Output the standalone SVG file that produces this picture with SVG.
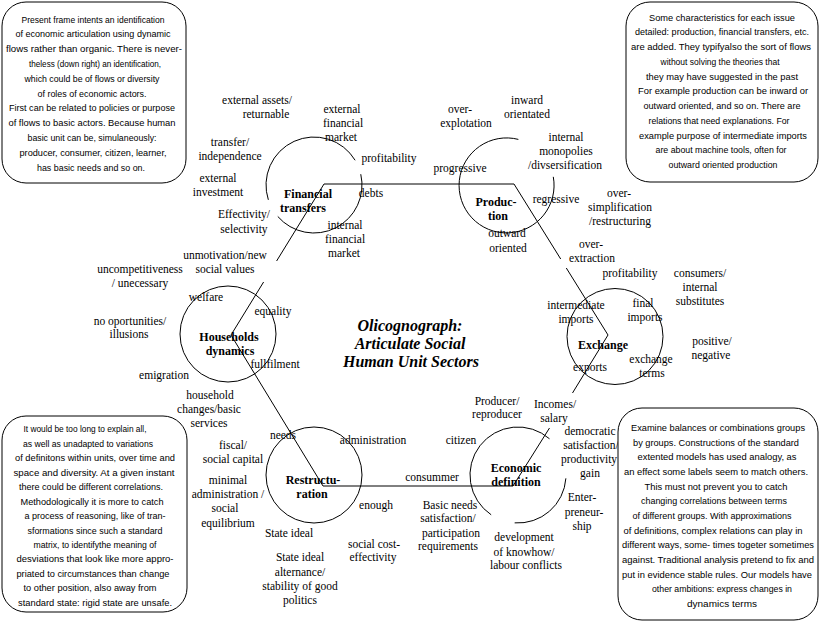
<svg xmlns="http://www.w3.org/2000/svg" width="822" height="626" viewBox="0 0 822 626">
<style>
.bg{fill:#fff}
.box{fill:#fff;stroke:#000;stroke-width:1}
.bt{font-family:"Liberation Sans",Arial,sans-serif;font-size:9.5px;text-anchor:middle;fill:#000}
.bs{font-family:"Liberation Sans",Arial,sans-serif;font-size:9px;text-anchor:middle;fill:#000}
.lb{font-family:"Liberation Serif","Times New Roman",serif;font-size:11.5px;text-anchor:middle;fill:#000}
.tt{font-family:"Liberation Serif","Times New Roman",serif;font-size:12px;font-weight:bold;text-anchor:middle;fill:#000}
.ti{font-family:"Liberation Serif","Times New Roman",serif;font-size:16px;font-weight:bold;font-style:italic;text-anchor:middle;fill:#000}
.ring{fill:none;stroke:#000;stroke-width:1}
.edge{fill:none;stroke:#000;stroke-width:1}
</style>
<rect class="bg" x="0" y="0" width="822" height="626"/>

<g id="connectors">
<line class="edge" x1="324" y1="184" x2="514" y2="184"/>
<line class="edge" x1="514" y1="184" x2="560.7" y2="259"/>
<line class="edge" x1="566.3" y1="268" x2="608" y2="335"/>
<line class="edge" x1="608" y1="335" x2="572.5" y2="393"/>
<line class="edge" x1="549.5" y1="428" x2="513" y2="486"/>
<line class="edge" x1="513" y1="486" x2="323" y2="486"/>
<line class="edge" x1="323" y1="486" x2="231" y2="335"/>
<line class="edge" x1="231" y1="335" x2="263.6" y2="282"/>
<line class="edge" x1="276.6" y1="261" x2="324" y2="184"/>
</g>

<g id="node-financial">
<path class="ring" d="M360.77,174.2 A48,48 0 0 1 277.77,216.49"/>
<path class="ring" d="M268.35,199.83 A48,48 0 0 1 355.14,160.28"/>
<text class="tt" x="308" y="198">Financial</text>
<text class="tt" x="303" y="212">transfers</text>
<text class="lb" x="257" y="104">external assets/</text>
<text class="lb" x="266" y="118">returnable</text>
<text class="lb" x="342" y="113">external</text>
<text class="lb" x="343" y="127">financial</text>
<text class="lb" x="341" y="141">market</text>
<text class="lb" x="230" y="146">transfer/</text>
<text class="lb" x="230" y="160">independence</text>
<text class="lb" x="389" y="162">profitability</text>
<text class="lb" x="218" y="182">external</text>
<text class="lb" x="218" y="196">investment</text>
<text class="lb" x="371" y="197">debts</text>
<text class="lb" x="244" y="218">Effectivity/</text>
<text class="lb" x="244" y="233">selectivity</text>
<text class="lb" x="345" y="229">internal</text>
<text class="lb" x="345" y="243">financial</text>
<text class="lb" x="344" y="257">market</text>
</g>

<g id="node-production">
<path class="ring" d="M553.29,176.84 A47.5,47.5 0 1 1 518.37,139.4"/>
<text class="tt" x="496" y="206">Produc-</text>
<text class="tt" x="498" y="220">tion</text>
<text class="lb" x="527" y="104">inward</text>
<text class="lb" x="527" y="118">orientated</text>
<text class="lb" x="460" y="113">over-</text>
<text class="lb" x="466" y="127">explotation</text>
<text class="lb" x="566" y="141">internal</text>
<text class="lb" x="566" y="155">monopolies</text>
<text class="lb" x="565" y="169">/divsersification</text>
<text class="lb" x="460" y="172">progressive</text>
<text class="lb" x="556" y="203">regressive</text>
<text class="lb" x="619" y="197">over-</text>
<text class="lb" x="620" y="211">simplification</text>
<text class="lb" x="620" y="225">/restructuring</text>
<text class="lb" x="507" y="237">outward</text>
<text class="lb" x="508" y="252">oriented</text>
</g>

<g id="node-exchange">
<circle class="ring" cx="615" cy="336.5" r="48"/>
<text class="tt" x="603" y="349">Exchange</text>
<text class="lb" x="591" y="248">over-</text>
<text class="lb" x="592" y="262">extraction</text>
<text class="lb" x="630" y="277">profitability</text>
<text class="lb" x="700" y="277">consumers/</text>
<text class="lb" x="700" y="291">internal</text>
<text class="lb" x="700" y="305">substitutes</text>
<text class="lb" x="576" y="309">intermediate</text>
<text class="lb" x="576" y="323">imports</text>
<text class="lb" x="643" y="307">final</text>
<text class="lb" x="645" y="321">imports</text>
<text class="lb" x="712" y="345">positive/</text>
<text class="lb" x="711" y="359">negative</text>
<text class="lb" x="651" y="363">exchange</text>
<text class="lb" x="652" y="377">terms</text>
<text class="lb" x="590" y="371">exports</text>
</g>

<g id="node-economic">
<path class="ring" d="M565.88,478.35 A48,48 0 0 1 514.65,522.88"/>
<path class="ring" d="M491.16,514.79 A48,48 0 1 1 549.49,438.77"/>
<text class="tt" x="516" y="472">Economic</text>
<text class="tt" x="516" y="486">definition</text>
<text class="lb" x="497" y="405">Producer/</text>
<text class="lb" x="497" y="418">reproducer</text>
<text class="lb" x="555" y="408">Incomes/</text>
<text class="lb" x="554" y="422">salary</text>
<text class="lb" x="461" y="444">citizen</text>
<text class="lb" x="590" y="435">democratic</text>
<text class="lb" x="591" y="449">satisfaction/</text>
<text class="lb" x="589" y="463">productivity</text>
<text class="lb" x="590" y="477">gain</text>
<text class="lb" x="432" y="481">consummer</text>
<text class="lb" x="582" y="501">Enter-</text>
<text class="lb" x="584" y="516">preneur-</text>
<text class="lb" x="582" y="530">ship</text>
<text class="lb" x="450" y="509">Basic needs</text>
<text class="lb" x="448" y="522">satisfaction/</text>
<text class="lb" x="451" y="537">participation</text>
<text class="lb" x="448" y="550">requirements</text>
<text class="lb" x="524" y="541">development</text>
<text class="lb" x="524" y="556">of knowhow/</text>
<text class="lb" x="526" y="569">labour conflicts</text>
</g>

<g id="node-restructuration">
<circle class="ring" cx="314" cy="475" r="48"/>
<text class="tt" x="313" y="484">Restructu-</text>
<text class="tt" x="312" y="498">ration</text>
<text class="lb" x="283" y="439">needs</text>
<text class="lb" x="373" y="444">administration</text>
<text class="lb" x="233" y="449">fiscal/</text>
<text class="lb" x="233" y="463">social capital</text>
<text class="lb" x="228" y="484">minimal</text>
<text class="lb" x="228" y="498">administration /</text>
<text class="lb" x="225" y="512">social</text>
<text class="lb" x="228" y="527">equilibrium</text>
<text class="lb" x="376" y="509">enough</text>
<text class="lb" x="289" y="537">State ideal</text>
<text class="lb" x="374" y="548">social cost-</text>
<text class="lb" x="373" y="561">effectivity</text>
<text class="lb" x="300" y="561">State ideal</text>
<text class="lb" x="300" y="576">alternance/</text>
<text class="lb" x="300" y="590">stability of good</text>
<text class="lb" x="300" y="604">politics</text>
</g>

<g id="node-households">
<circle class="ring" cx="228" cy="334" r="48"/>
<text class="tt" x="229" y="341">Households</text>
<text class="tt" x="230" y="355">dynamics</text>
<text class="lb" x="225" y="259">unmotivation/new</text>
<text class="lb" x="225" y="273">social values</text>
<text class="lb" x="140" y="273">uncompetitiveness</text>
<text class="lb" x="140" y="287">/ unecessary</text>
<text class="lb" x="206" y="301">welfare</text>
<text class="lb" x="273" y="315">equality</text>
<text class="lb" x="130" y="325">no oportunities/</text>
<text class="lb" x="129" y="338">illusions</text>
<text class="lb" x="275" y="368">fullfilment</text>
<text class="lb" x="164" y="379">emigration</text>
<text class="lb" x="210" y="399">household</text>
<text class="lb" x="209" y="413">changes/basic</text>
<text class="lb" x="209" y="427">services</text>
</g>

<g id="title">
<text class="ti" x="410" y="331">Olicognograph:</text>
<text class="ti" x="410" y="349">Articulate Social</text>
<text class="ti" x="411" y="367">Human Unit Sectors</text>
</g>

<g id="note-top-left">
<rect class="box" x="2" y="2" width="184" height="181" rx="24" ry="24"/>
<text class="bt" x="93" y="22.5" textLength="143" lengthAdjust="spacingAndGlyphs">Present frame intents an identification</text>
<text class="bt" x="93" y="37.3" textLength="155" lengthAdjust="spacingAndGlyphs">of economic articulation using dynamic</text>
<text class="bt" x="94" y="52.1" textLength="176" lengthAdjust="spacingAndGlyphs">flows rather than organic. There is  never-</text>
<text class="bt" x="95" y="66.9" textLength="132" lengthAdjust="spacingAndGlyphs">theless (down right) an identification,</text>
<text class="bt" x="92" y="81.7" textLength="135" lengthAdjust="spacingAndGlyphs">which could be of flows or diversity</text>
<text class="bt" x="92" y="96.5" textLength="109" lengthAdjust="spacingAndGlyphs">of roles of economic actors.</text>
<text class="bt" x="92" y="111.3" textLength="166" lengthAdjust="spacingAndGlyphs">First can be related to policies or purpose</text>
<text class="bt" x="92" y="126.1" textLength="167" lengthAdjust="spacingAndGlyphs">of flows to basic actors. Because human</text>
<text class="bt" x="92" y="140.9" textLength="129" lengthAdjust="spacingAndGlyphs">basic unit can be, simulaneously:</text>
<text class="bt" x="93" y="155.7" textLength="147" lengthAdjust="spacingAndGlyphs">producer, consumer, citizen, learner,</text>
<text class="bt" x="91" y="170.5" textLength="108" lengthAdjust="spacingAndGlyphs">has basic needs and so on.</text>
</g>

<g id="note-top-right">
<rect class="box" x="626" y="2" width="192" height="180" rx="24" ry="24"/>
<text class="bs" x="722" y="20.7" textLength="146" lengthAdjust="spacingAndGlyphs">Some characteristics for each issue</text>
<text class="bs" x="722" y="35.4" textLength="174" lengthAdjust="spacingAndGlyphs">detailed: production, financial transfers, etc.</text>
<text class="bs" x="721" y="50.2" textLength="180" lengthAdjust="spacingAndGlyphs">are added. They typifyalso the sort of flows</text>
<text class="bs" x="720" y="64.9" textLength="119" lengthAdjust="spacingAndGlyphs">without solving the theories that</text>
<text class="bs" x="722" y="79.6" textLength="152" lengthAdjust="spacingAndGlyphs">they may have suggested in the past</text>
<text class="bs" x="723" y="94.4" textLength="170" lengthAdjust="spacingAndGlyphs">For example production can be inward or</text>
<text class="bs" x="722" y="109.1" textLength="157" lengthAdjust="spacingAndGlyphs">outward oriented, and so on. There are</text>
<text class="bs" x="719" y="123.8" textLength="141" lengthAdjust="spacingAndGlyphs">relations that need explanations. For</text>
<text class="bs" x="723" y="138.6" textLength="168" lengthAdjust="spacingAndGlyphs">example purpose of intermediate imports</text>
<text class="bs" x="721" y="153.3" textLength="131" lengthAdjust="spacingAndGlyphs">are about machine tools, often for</text>
<text class="bs" x="723" y="168" textLength="109" lengthAdjust="spacingAndGlyphs">outward oriented production</text>
</g>

<g id="note-bottom-left">
<rect class="box" x="2" y="416" width="185" height="196" rx="24" ry="24"/>
<text class="bt" x="85" y="432.3" textLength="123" lengthAdjust="spacingAndGlyphs">It would be too long to explain all,</text>
<text class="bt" x="88" y="446.8" textLength="130" lengthAdjust="spacingAndGlyphs">as well as unadapted to variations</text>
<text class="bt" x="95" y="461.2" textLength="160" lengthAdjust="spacingAndGlyphs">of definitons within units, over time and</text>
<text class="bt" x="94" y="475.7" textLength="161" lengthAdjust="spacingAndGlyphs">space and diversity. At a given instant</text>
<text class="bt" x="91" y="490.1" textLength="144" lengthAdjust="spacingAndGlyphs">there could be different correlations.</text>
<text class="bt" x="92" y="504.6" textLength="143" lengthAdjust="spacingAndGlyphs">Methodologically it is more to catch</text>
<text class="bt" x="95" y="519" textLength="141" lengthAdjust="spacingAndGlyphs">a process of reasoning, like of tran-</text>
<text class="bt" x="95" y="533.5" textLength="135" lengthAdjust="spacingAndGlyphs">sformations since such a standard</text>
<text class="bt" x="95" y="547.9" textLength="123" lengthAdjust="spacingAndGlyphs">matrix, to identifythe meaning of</text>
<text class="bt" x="95" y="562.4" textLength="157" lengthAdjust="spacingAndGlyphs">desviations that look like more appro-</text>
<text class="bt" x="93" y="576.8" textLength="153" lengthAdjust="spacingAndGlyphs">priated to circumstances than change</text>
<text class="bt" x="90" y="591.3" textLength="133" lengthAdjust="spacingAndGlyphs">to other position, also away from</text>
<text class="bt" x="95" y="605.7" textLength="154" lengthAdjust="spacingAndGlyphs">standard state: rigid state are unsafe.</text>
</g>

<g id="note-bottom-right">
<rect class="box" x="618" y="408" width="200" height="212" rx="24" ry="24"/>
<text class="bs" x="718" y="431" textLength="174" lengthAdjust="spacingAndGlyphs">Examine balances or combinations groups</text>
<text class="bs" x="716" y="445.7" textLength="166" lengthAdjust="spacingAndGlyphs">by groups. Constructions of the standard</text>
<text class="bs" x="717" y="460.3" textLength="159" lengthAdjust="spacingAndGlyphs">extented models has  used analogy, as</text>
<text class="bs" x="716" y="475" textLength="184" lengthAdjust="spacingAndGlyphs">an effect some labels seem to match others.</text>
<text class="bs" x="716" y="489.7" textLength="143" lengthAdjust="spacingAndGlyphs">This must not prevent  you to catch</text>
<text class="bs" x="714" y="504.4" textLength="146" lengthAdjust="spacingAndGlyphs">changing correlations between terms</text>
<text class="bs" x="712" y="519" textLength="159" lengthAdjust="spacingAndGlyphs">of different groups. With approximations</text>
<text class="bs" x="713" y="533.7" textLength="179" lengthAdjust="spacingAndGlyphs">of definitions, complex relations can play in</text>
<text class="bs" x="718" y="548.4" textLength="192" lengthAdjust="spacingAndGlyphs">different  ways, some- times togeter sometimes</text>
<text class="bs" x="718" y="563" textLength="192" lengthAdjust="spacingAndGlyphs">against.  Traditional  analysis pretend to fix and</text>
<text class="bs" x="717" y="577.7" textLength="190" lengthAdjust="spacingAndGlyphs">put in  evidence stable rules. Our models have</text>
<text class="bs" x="722" y="592.4" textLength="140" lengthAdjust="spacingAndGlyphs">other ambitions: express changes in</text>
<text class="bs" x="722" y="607" textLength="70" lengthAdjust="spacingAndGlyphs">dynamics terms</text>
</g>
</svg>
